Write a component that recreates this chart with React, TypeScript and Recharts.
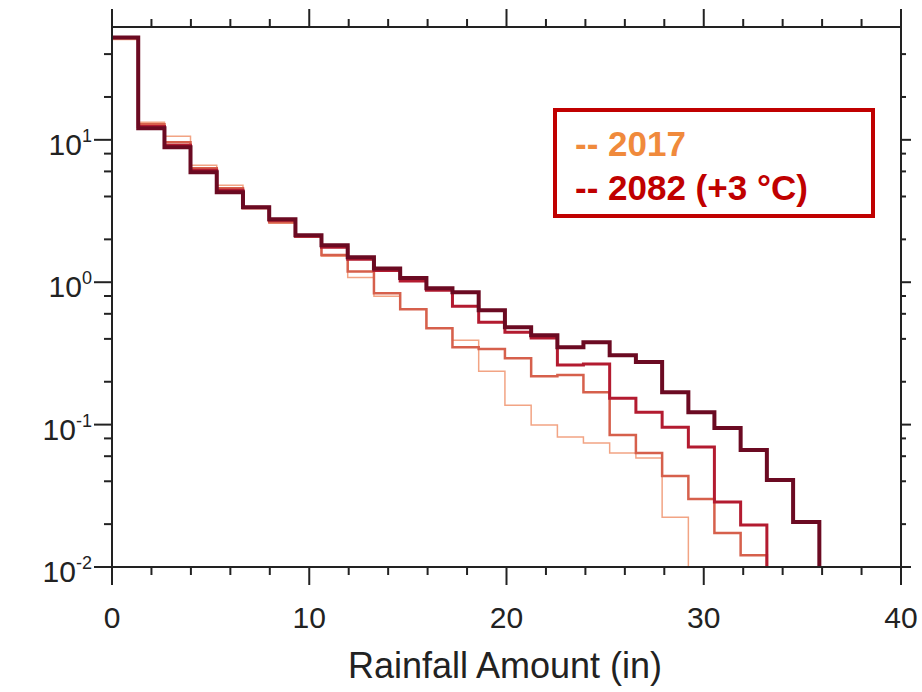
import React from 'react';
import { LineChart, Line, XAxis, YAxis } from 'recharts';

// bin edges (in) and per-bin frequencies (%)
const binEdges = [0, 1.33, 2.66, 3.98, 5.31, 6.64, 7.97, 9.3, 10.62, 11.95, 13.28, 14.61, 15.94, 17.26, 18.59, 19.92, 21.25, 22.58, 23.9, 25.23, 26.56, 27.89, 29.22, 30.54, 31.87, 33.2, 34.53, 35.86];

const pdf2017 = [50.7, 13.3, 10.6, 6.62, 4.79, 3.31, 2.59, 2.07, 1.52, 1.08, 0.798, 0.646, 0.476, 0.392, 0.237, 0.137, 0.0992, 0.0817, 0.0742, 0.0631, 0.0582, 0.0224];
const pdfMid1 = [51.6, 12.85, 9.6, 6.31, 4.57, 3.31, 2.64, 2.1, 1.55, 1.19, 0.837, 0.646, 0.476, 0.35, 0.339, 0.293, 0.219, 0.223, 0.169, 0.0844, 0.0631, 0.0435, 0.03, 0.0173, 0.0121];
const pdfMid2 = [52.4, 12.4, 9.15, 6.11, 4.42, 3.36, 2.72, 2.1, 1.76, 1.45, 1.21, 1.02, 0.879, 0.679, 0.524, 0.446, 0.405, 0.262, 0.266, 0.153, 0.122, 0.096, 0.0695, 0.0286, 0.0197];
const pdf2082 = [52.4, 12.04, 8.86, 5.91, 4.28, 3.36, 2.77, 2.14, 1.82, 1.5, 1.25, 1.07, 0.908, 0.851, 0.636, 0.483, 0.425, 0.35, 0.379, 0.307, 0.275, 0.169, 0.122, 0.0945, 0.0662, 0.0408, 0.0207];

const yFloor = 0.01;
const yMajor = [0.01, 0.1, 1, 10];
const yMinor = [0.02, 0.04, 0.06, 0.08, 0.2, 0.4, 0.6, 0.8, 2, 4, 6, 8, 20, 40];
const xMajor = [0, 10, 20, 30, 40];
const xMinor = [2, 4, 6, 8, 12, 14, 16, 18, 22, 24, 26, 28, 32, 34, 36, 38];

const series = [
  { key: 'y2017', values: pdf2017, color: '#f2a484', width: 1.5 },
  { key: 'mid1', values: pdfMid1, color: '#d6604c', width: 2.5 },
  { key: 'mid2', values: pdfMid2, color: '#b31b30', width: 3 },
  { key: 'y2082', values: pdf2082, color: '#6b0a22', width: 4 },
];

// last point drops the step to the axis floor
const rows = binEdges.map((x, i) => {
  const row: any = { x };
  series.forEach((s) => {
    if (i < s.values.length) row[s.key] = s.values[i];
    else if (i === s.values.length) row[s.key] = yFloor;
    else row[s.key] = null;
  });
  return row;
});

const font = '"Liberation Sans", Arial, Helvetica, sans-serif';
const ink = '#222';

const LeftTick = ({ x, y, payload }: any) => {
  const major = yMajor.includes(payload.value);
  return (
    <g>
      <line x1={x} x2={x - (major ? 18 : 8)} y1={y} y2={y} stroke={ink} strokeWidth={2} />
      {major && (
        <text x={x - 20} y={y + 15} textAnchor="end" fontFamily={font} fontSize={30} fill={ink}>
          10<tspan dy={-13} fontSize={18}>{Math.round(Math.log10(payload.value))}</tspan>
        </text>
      )}
    </g>
  );
};

const RightTick = ({ x, y, payload }: any) => {
  const major = yMajor.includes(payload.value);
  return <line x1={x} x2={x + (major ? 10 : 5)} y1={y} y2={y} stroke={ink} strokeWidth={2} />;
};

const BottomTick = ({ x, y, payload }: any) => {
  const major = xMajor.includes(payload.value);
  return (
    <g>
      <line x1={x} x2={x} y1={y} y2={y + (major ? 18 : 8)} stroke={ink} strokeWidth={2} />
      {major && (
        <text x={x} y={y + 61} textAnchor="middle" fontFamily={font} fontSize={30} fill={ink}>
          {payload.value}
        </text>
      )}
    </g>
  );
};

const TopTick = ({ x, y, payload }: any) => {
  const major = xMajor.includes(payload.value);
  return <line x1={x} x2={x} y1={y} y2={y - (major ? 18 : 8)} stroke={ink} strokeWidth={2} />;
};

export default function App() {
  const axisLine = { stroke: ink, strokeWidth: 2 };
  const yTicks = [...yMajor, ...yMinor];
  const xTicks = [...xMajor, ...xMinor];
  return (
    <div style={{ position: 'absolute', left: 0, top: 0, width: 922, height: 692, background: '#fff' }}>
      <LineChart width={922} height={692} data={rows} margin={{ top: 0, right: 1, bottom: 0, left: 0 }}>
        <XAxis xAxisId="bottom" dataKey="x" type="number" domain={[0, 40]} ticks={xTicks} interval={0}
          height={125} tickSize={0} tickMargin={0} tickLine={false} axisLine={axisLine} tick={<BottomTick />} />
        <XAxis xAxisId="top" orientation="top" dataKey="x" type="number" domain={[0, 40]} ticks={xTicks} interval={0}
          height={27} tickSize={0} tickMargin={0} tickLine={false} axisLine={axisLine} tick={<TopTick />} />
        <YAxis yAxisId="left" type="number" scale="log" domain={[yFloor, 62]} allowDataOverflow ticks={yTicks} interval={0}
          width={112} tickSize={0} tickMargin={0} tickLine={false} axisLine={axisLine} tick={<LeftTick />} />
        <YAxis yAxisId="right" orientation="right" type="number" scale="log" domain={[yFloor, 62]} allowDataOverflow ticks={yTicks} interval={0}
          width={20} tickSize={0} tickMargin={0} tickLine={false} axisLine={axisLine} tick={<RightTick />} />
        {series.map((s) => (
          <Line key={s.key} xAxisId="bottom" yAxisId="left" type="stepAfter" dataKey={s.key}
            stroke={s.color} strokeWidth={s.width} strokeLinejoin="miter" strokeLinecap="butt"
            dot={false} activeDot={false} connectNulls={false} isAnimationActive={false} />
        ))}
      </LineChart>
      <svg width={922} height={692} style={{ position: 'absolute', left: 0, top: 0, pointerEvents: 'none' }}>
        <text x={505} y={678} textAnchor="middle" fontFamily={font} fontSize={36} fill={ink}>
          Rainfall Amount (in)
        </text>
        <rect x={555} y={110} width={318} height={106} fill="#fff" stroke="#c00000" strokeWidth={4} />
        <text x={575} y={156} fontFamily={font} fontSize={35} fontWeight="bold" fill="#f08a3c">-- 2017</text>
        <text x={575} y={200} fontFamily={font} fontSize={35} fontWeight="bold" fill="#c00000">-- 2082 (+3 °C)</text>
      </svg>
    </div>
  );
}
